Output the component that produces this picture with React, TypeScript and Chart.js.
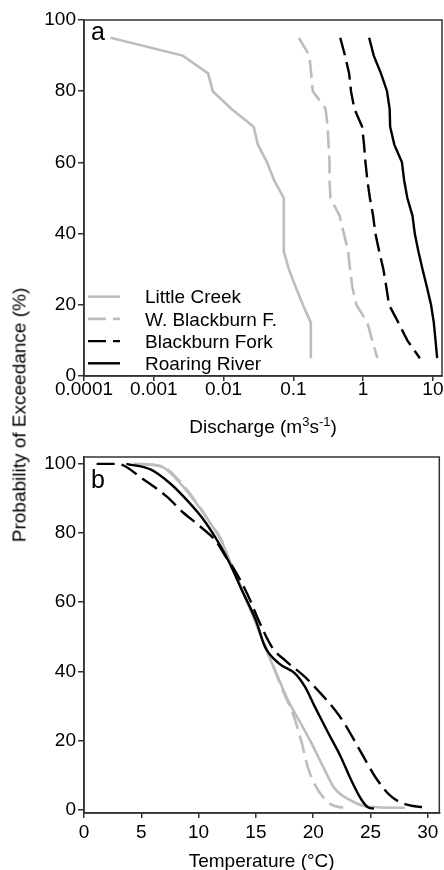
import React, { useEffect, useRef } from "react";
import { Chart, registerables } from "chart.js";
Chart.register(...registerables);

const FONT = '"Liberation Sans", Arial, sans-serif';

// ---------- Panel a: flow duration ----------
const siteNames = ["Little Creek", "W. Blackburn F.", "Blackburn Fork", "Roaring River"];
const exceedancePct = [95, 90, 85, 80, 75, 70, 65, 60, 55, 50, 45, 40, 35, 30, 25, 20, 15, 10, 5];
const qLittleCreek = [0.00024, 0.0026, 0.006, 0.007, 0.013, 0.027, 0.031, 0.042, 0.053, 0.073, 0.073, 0.073, 0.073, 0.086, 0.108, 0.137, 0.178, 0.178, 0.178];
const qWBlackburn = [0.12, 0.17, 0.18, 0.19, 0.29, 0.31, 0.32, 0.33, 0.33, 0.34, 0.46, 0.53, 0.61, 0.65, 0.7, 0.8, 1.15, 1.35, 1.6];
const qBlackburnFork = [0.47, 0.55, 0.63, 0.67, 0.75, 0.97, 1.03, 1.08, 1.15, 1.25, 1.39, 1.5, 1.7, 1.95, 2.15, 2.35, 3.2, 4.3, 6.5];
const qRoaringRiver = [1.22, 1.42, 1.8, 2.2, 2.4, 2.44, 2.8, 3.6, 3.87, 4.3, 5.1, 5.5, 6.2, 7.1, 8.2, 9.4, 10.3, 10.9, 11.5];
const dischargeTicks = [0.0001, 0.001, 0.01, 0.1, 1, 10];
const dischargeTickLabels = ["0.0001", "0.001", "0.01", "0.1", "1", "10"];
const probTicks = [0, 20, 40, 60, 80, 100];

// ---------- Panel b: temperature duration ----------
const tLittleCreek = [4.3, 6.7, 8.4, 9.8, 11.0, 11.9, 12.7, 13.8, 15.0, 15.8, 16.9, 17.8, 18.9, 19.8, 21.0, 21.8, 23.4, 24.9, 28.0];
const pLittleCreek = [100, 99.3, 94.4, 88.6, 82.9, 78.3, 72, 63.5, 54, 47, 38.5, 31.6, 25, 19.5, 11.5, 6.4, 2.4, 0.8, 0.5];
const tWBlackburn = [5.2, 7.0, 8.6, 10.0, 11.2, 12.0, 12.7, 13.8, 15.0, 16.0, 17.1, 17.6, 18.2, 18.9, 19.6, 20.5, 21.6, 22.6];
const pWBlackburn = [100, 99, 94, 88, 82, 78, 72, 63.5, 54, 46, 36.5, 32.5, 28, 20.5, 11.5, 5.2, 1.4, 0.5];
const tBlackburnFork = [1.1, 2.9, 5.2, 7.2, 8.7, 10.1, 11.5, 12.4, 13.2, 14.4, 15.2, 16.4, 17.6, 19.3, 20.4, 21.9, 22.8, 24.2, 25.4, 26.8, 28.2, 30.0];
const pBlackburnFork = [100, 100, 95.5, 90.6, 85.8, 82, 77.7, 73, 69, 61.3, 55, 47, 43, 38.3, 34.5, 28.8, 24.5, 16.4, 9.5, 3.8, 1.4, 0.5];
const tRoaringRiver = [3.7, 5.8, 7.5, 8.9, 10.4, 11.5, 12.6, 13.8, 15.0, 15.8, 17.0, 18.4, 19.3, 20.1, 21.3, 22.4, 23.3, 24.2, 24.8, 25.3];
const pRoaringRiver = [100, 98.4, 94.4, 89.8, 84, 78.5, 72, 63.3, 54.7, 47, 42.3, 39.4, 35.4, 30, 22.2, 15.3, 8.6, 2.9, 0.6, 0.3];
const tempTicks = [0, 5, 10, 15, 20, 25, 30];

const GRAY = "#bdbdbd";
const BLACK = "#000000";
const DASH = [18, 7];
const siteStyles = [
  { color: GRAY, dash: [] as number[], width: 2.6 },
  { color: GRAY, dash: DASH, width: 2.6 },
  { color: BLACK, dash: DASH, width: 2.4 },
  { color: BLACK, dash: [] as number[], width: 2.4 },
];

const decorPlugin = {
  id: "decor",
  afterDraw(chart: any, _args: any, opts: any) {
    const { ctx, chartArea: a } = chart;
    ctx.save();
    ctx.strokeStyle = "#333";
    ctx.lineWidth = 1.5;
    ctx.strokeRect(a.left, a.top, a.right - a.left, a.bottom - a.top);
    ctx.fillStyle = "#000";
    ctx.textBaseline = "alphabetic";
    ctx.textAlign = "left";
    ctx.font = `25px ${FONT}`;
    ctx.fillText(opts.label, a.left + 7, a.top + opts.labelDy);
    // x title with optional superscripts
    const parts: [string, boolean][] = opts.titleParts;
    const mainFont = `19px ${FONT}`;
    const supFont = `13px ${FONT}`;
    let total = 0;
    for (const [t, sup] of parts) {
      ctx.font = sup ? supFont : mainFont;
      total += ctx.measureText(t).width;
    }
    let x = (a.left + a.right) / 2 - total / 2;
    for (const [t, sup] of parts) {
      ctx.font = sup ? supFont : mainFont;
      ctx.fillText(t, x, sup ? opts.titleBaseline - 7 : opts.titleBaseline);
      x += ctx.measureText(t).width;
    }
    if (opts.legend) {
      ctx.font = mainFont;
      const ds = chart.data.datasets;
      for (let i = 0; i < ds.length; i++) {
        const y = opts.legendTop + i * 22.2;
        ctx.beginPath();
        ctx.strokeStyle = ds[i].borderColor;
        ctx.lineWidth = ds[i].borderWidth;
        ctx.setLineDash(ds[i].borderDash || []);
        ctx.moveTo(a.left + 4, y);
        ctx.lineTo(a.left + 36, y);
        ctx.stroke();
        ctx.setLineDash([]);
        ctx.fillText(ds[i].label, a.left + 61, y + 6.7);
      }
    }
    ctx.restore();
  },
};

const tickFont = { family: FONT, size: 19, lineHeight: 1 };

function axisCommon(tickPad: number, tickLen: number) {
  return {
    grid: { display: true, drawOnChartArea: false, drawTicks: true, tickLength: tickLen, color: "#333", lineWidth: 1.5 },
    border: { display: true, color: "#333", width: 1.5 },
    ticks: { font: tickFont, color: "#000", padding: tickPad, autoSkip: false, maxRotation: 0 },
  };
}

export default function App() {
  const refA = useRef<HTMLCanvasElement>(null);
  const refB = useRef<HTMLCanvasElement>(null);

  useEffect(() => {
    const qs = [qLittleCreek, qWBlackburn, qBlackburnFork, qRoaringRiver];
    const HA = 445;
    const chartA = new Chart(refA.current!, {
      type: "line",
      data: {
        datasets: qs.map((q, i) => ({
          label: siteNames[i],
          data: q.map((v, j) => ({ x: v, y: exceedancePct[j] })),
          borderColor: siteStyles[i].color,
          borderDash: siteStyles[i].dash,
          borderWidth: siteStyles[i].width,
          pointRadius: 0,
          tension: 0,
          fill: false,
          order: 4 - i,
        })),
      },
      options: {
        animation: false,
        responsive: false,
        devicePixelRatio: 1,
        layout: { padding: { top: 20, right: 2, left: 0, bottom: 0 } },
        plugins: {
          legend: { display: false },
          tooltip: { enabled: false },
          decor: {
            label: "a",
            labelDy: 20,
            titleParts: [["Discharge (m", false], ["3", true], ["s", false], ["-1", true], [")", false]],
            titleBaseline: 433,
            legend: true,
            legendTop: 296.7,
          },
        } as any,
        scales: {
          x: {
            type: "logarithmic",
            min: 0.0001,
            max: 13.5,
            ...axisCommon(-1, 5),
            ticks: { ...axisCommon(-1, 5).ticks, callback: (_v: any, i: number) => dischargeTickLabels[i] },
            afterBuildTicks: (s: any) => { s.ticks = dischargeTicks.map((v) => ({ value: v })); },
            afterFit: (s: any) => { s.height = HA - 376; },
          },
          y: {
            type: "linear",
            min: 0,
            max: 100,
            ...axisCommon(2, 6),
            afterBuildTicks: (s: any) => { s.ticks = probTicks.map((v) => ({ value: v })); },
            afterFit: (s: any) => { s.width = 84; },
          },
        } as any,
      },
      plugins: [decorPlugin],
    } as any);

    const ts = [tLittleCreek, tWBlackburn, tBlackburnFork, tRoaringRiver];
    const ps = [pLittleCreek, pWBlackburn, pBlackburnFork, pRoaringRiver];
    const HB = 425;
    const chartB = new Chart(refB.current!, {
      type: "line",
      data: {
        datasets: ts.map((t, i) => ({
          label: siteNames[i],
          data: t.map((v, j) => ({ x: v, y: ps[i][j] })),
          borderColor: siteStyles[i].color,
          borderDash: siteStyles[i].dash,
          borderWidth: siteStyles[i].width,
          pointRadius: 0,
          cubicInterpolationMode: "monotone",
          fill: false,
          order: 4 - i,
        })),
      },
      options: {
        animation: false,
        responsive: false,
        devicePixelRatio: 1,
        layout: { padding: { top: 12, right: 3, left: 0, bottom: 0 } },
        plugins: {
          legend: { display: false },
          tooltip: { enabled: false },
          decor: {
            label: "b",
            labelDy: 31,
            titleParts: [["Temperature (°C)", false]],
            titleBaseline: 422,
            legend: false,
          },
        } as any,
        scales: {
          x: {
            type: "linear",
            min: 0,
            max: 31,
            ...axisCommon(5.5, 5),
            afterBuildTicks: (s: any) => { s.ticks = tempTicks.map((v) => ({ value: v })); },
            afterFit: (s: any) => { s.height = HB - 368; },
          },
          y: {
            type: "linear",
            min: -1,
            max: 102,
            ...axisCommon(2, 6),
            afterBuildTicks: (s: any) => { s.ticks = probTicks.map((v) => ({ value: v })); },
            afterFit: (s: any) => { s.width = 84; },
          },
        } as any,
      },
      plugins: [decorPlugin],
    } as any);

    return () => {
      chartA.destroy();
      chartB.destroy();
    };
  }, []);

  return (
    <div style={{ position: "absolute", left: 0, top: 0, width: 444, height: 870, background: "#fff", overflow: "hidden" }}>
      <canvas ref={refA} width={444} height={445} style={{ position: "absolute", left: 0, top: 0, width: 444, height: 445 }} />
      <canvas ref={refB} width={444} height={425} style={{ position: "absolute", left: 0, top: 445, width: 444, height: 425 }} />
      <div
        style={{
          position: "absolute",
          left: 18.9,
          top: 415,
          transform: "translate(-50%, -50%) rotate(-90deg)",
          font: `19px ${FONT}`,
          lineHeight: "19px",
          whiteSpace: "nowrap",
          color: "#000",
        }}
      >
        Probability of Exceedance (%)
      </div>
    </div>
  );
}
